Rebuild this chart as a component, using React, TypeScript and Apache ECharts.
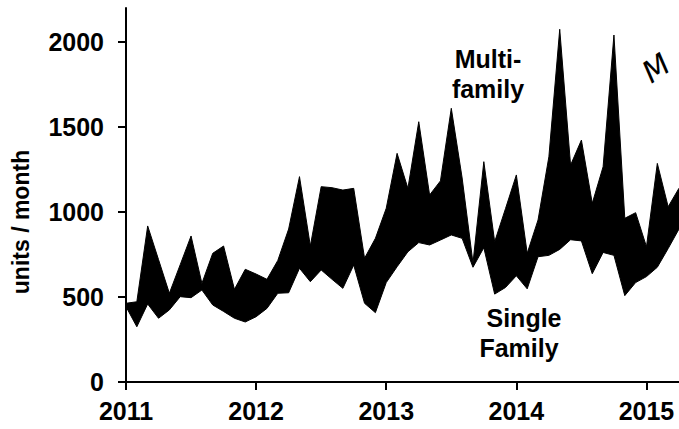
import React, { useEffect, useRef } from "react";
import * as echarts from "echarts";

// Monthly values starting January 2011
const monthLabels = [
  "2011-01", "2011-02", "2011-03", "2011-04", "2011-05", "2011-06", "2011-07", "2011-08", "2011-09", "2011-10", "2011-11", "2011-12",
  "2012-01", "2012-02", "2012-03", "2012-04", "2012-05", "2012-06", "2012-07", "2012-08", "2012-09", "2012-10", "2012-11", "2012-12",
  "2013-01", "2013-02", "2013-03", "2013-04", "2013-05", "2013-06", "2013-07", "2013-08", "2013-09", "2013-10", "2013-11", "2013-12",
  "2014-01", "2014-02", "2014-03", "2014-04", "2014-05", "2014-06", "2014-07", "2014-08", "2014-09", "2014-10", "2014-11", "2014-12",
  "2015-01", "2015-02", "2015-03", "2015-04",
];
const singleFamily = [
  443, 325, 459, 375, 424, 502, 496, 541, 453, 415, 375, 353,
  384, 433, 522, 525, 669, 590, 659, 604, 551, 688, 463, 408,
  585, 678, 766, 820, 806, 835, 865, 845, 675, 790, 517, 556,
  625, 548, 737, 745, 780, 837, 830, 637, 762, 745, 508, 585,
  620, 675, 785, 900,
];
const totalUnits = [
  463, 472, 918, 720, 522, 690, 859, 580, 757, 800, 545, 663,
  635, 604, 715, 900, 1208, 800, 1149, 1143, 1129, 1139, 728, 845,
  1022, 1345, 1139, 1531, 1100, 1183, 1610, 1200, 700, 1296, 825, 1020,
  1218, 757, 953, 1325, 2075, 1276, 1423, 1051, 1266, 2041, 963, 996,
  796, 1286, 1031, 1140,
];
const yTickValues = [0, 500, 1000, 1500, 2000];

const FONT = "'Liberation Sans', Arial, sans-serif";

export default function App() {
  const ref = useRef<HTMLDivElement>(null);
  useEffect(() => {
    if (!ref.current) return;
    const chart = echarts.init(ref.current, undefined, { renderer: "svg" });
    const monthPx = 130.75 / 12;
    const plotWidth = (monthLabels.length - 1) * monthPx;
    const gridRight = 679 - 126 - plotWidth;
    const multiFamily = totalUnits.map((v, i) => v - singleFamily[i]);
    chart.setOption({
      animation: false,
      backgroundColor: "#ffffff",
      grid: { left: 126, top: 8, right: gridRight, bottom: 47, containLabel: false },
      xAxis: {
        type: "category",
        data: monthLabels,
        boundaryGap: false,
        axisLine: { show: true, lineStyle: { color: "#000", width: 2 } },
        axisTick: {
          show: true,
          length: 8,
          alignWithLabel: true,
          interval: (index: number) => index % 12 === 0,
          lineStyle: { color: "#000", width: 2 },
        },
        axisLabel: {
          color: "#000",
          fontFamily: FONT,
          fontWeight: "bold",
          fontSize: 25,
          margin: 16,
          interval: (index: number) => index % 12 === 0,
          formatter: (v: string) => v.slice(0, 4),
        },
        splitLine: { show: false },
      },
      yAxis: {
        type: "value",
        min: 0,
        max: 2200,
        interval: 500,
        axisLine: { show: true, lineStyle: { color: "#000", width: 2 } },
        axisTick: {
          show: true,
          length: 8,
          lineStyle: { color: "#000", width: 2 },
          customValues: yTickValues,
        },
        axisLabel: {
          color: "#000",
          fontFamily: FONT,
          fontWeight: "bold",
          fontSize: 25,
          margin: 22,
          customValues: yTickValues,
          formatter: (v: number) => String(v),
        },
        splitLine: { show: false },
      },
      series: [
        {
          name: "Single Family",
          type: "line",
          stack: "units",
          symbol: "none",
          data: singleFamily,
          lineStyle: { color: "#000", width: 1 },
          z: 2,
        },
        {
          name: "Multi-family",
          type: "line",
          stack: "units",
          symbol: "none",
          data: multiFamily,
          lineStyle: { color: "#000", width: 1 },
          areaStyle: { color: "#000", opacity: 1 },
          z: 2,
        },
      ],
      graphic: [
        {
          type: "text",
          x: 21,
          y: 222,
          rotation: Math.PI / 2,
          style: {
            text: "units / month",
            font: `bold 23px ${FONT}`,
            fill: "#000",
            textAlign: "center",
            textVerticalAlign: "middle",
          },
        },
        {
          type: "text",
          x: 488,
          y: 59,
          style: { text: "Multi-", font: `bold 25px ${FONT}`, fill: "#000", textAlign: "center", textVerticalAlign: "middle" },
        },
        {
          type: "text",
          x: 488,
          y: 89,
          style: { text: "family", font: `bold 25px ${FONT}`, fill: "#000", textAlign: "center", textVerticalAlign: "middle" },
        },
        {
          type: "text",
          x: 524,
          y: 318,
          style: { text: "Single", font: `bold 25px ${FONT}`, fill: "#000", textAlign: "center", textVerticalAlign: "middle" },
        },
        {
          type: "text",
          x: 519,
          y: 348,
          style: { text: "Family", font: `bold 25px ${FONT}`, fill: "#000", textAlign: "center", textVerticalAlign: "middle" },
        },
        {
          type: "text",
          x: 656,
          y: 68,
          rotation: 0.6,
          style: {
            text: "M",
            font: `italic 300 30px 'DejaVu Sans', sans-serif`,
            fill: "#000",
            textAlign: "center",
            textVerticalAlign: "middle",
          },
        },
      ],
    });
    return () => chart.dispose();
  }, []);
  return (
    <div
      ref={ref}
      style={{ position: "fixed", left: 0, top: 0, width: 679, height: 429, background: "#fff" }}
    />
  );
}
